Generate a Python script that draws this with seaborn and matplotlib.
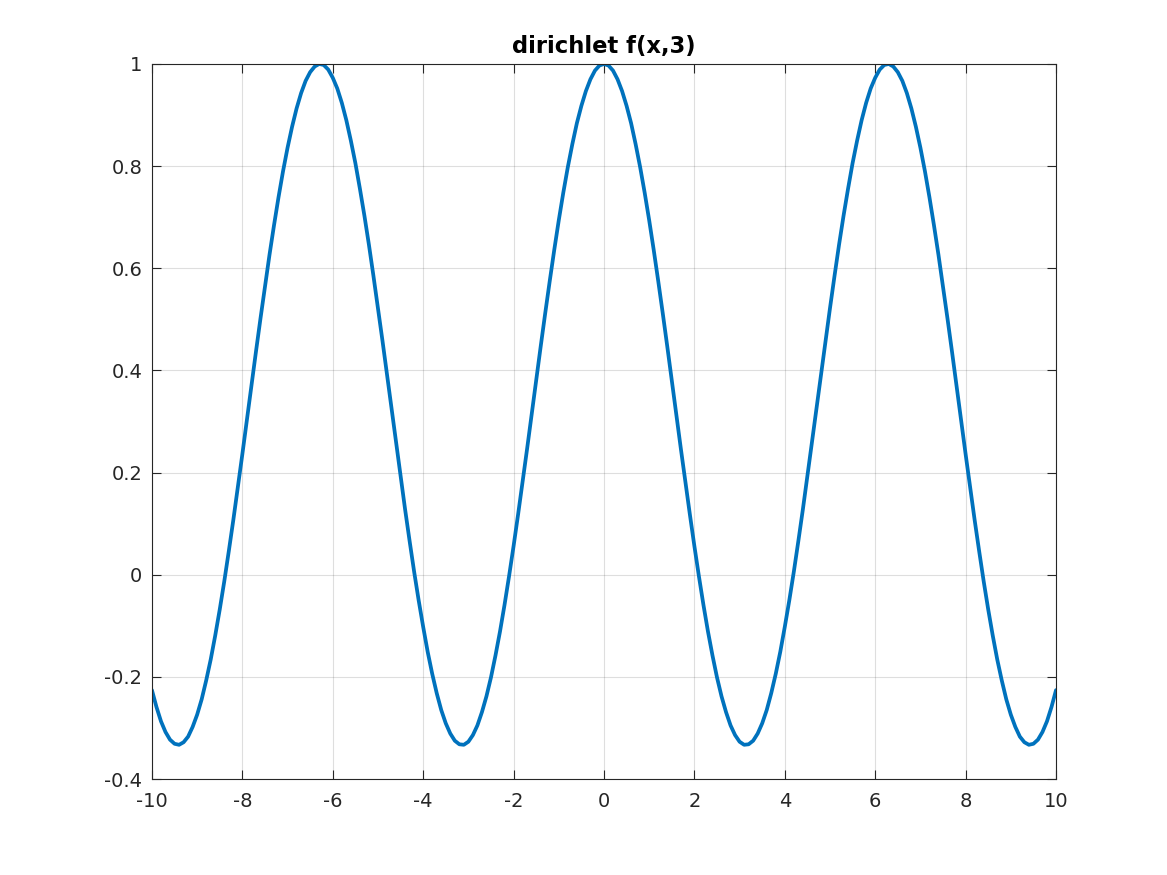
import numpy as np
import pandas as pd
import matplotlib
matplotlib.use("Agg")
import matplotlib.pyplot as plt
import seaborn as sns

# sample positions 0, 0.1, ..., 10 (mirrored for negative x)
x_half = list(np.round(np.linspace(0.0, 10.0, 101), 1))
y_half = [1.000, 0.997, 0.987, 0.970, 0.947, 0.918, 0.884, 0.843, 0.798, 0.748,
          0.694, 0.636, 0.575, 0.512, 0.447, 0.380, 0.314, 0.247, 0.182, 0.118,
          0.056, -0.003, -0.059, -0.111, -0.158, -0.201, -0.238, -0.269, -0.295, -0.314,
          -0.327, -0.333, -0.332, -0.325, -0.311, -0.291, -0.265, -0.232, -0.194, -0.151,
          -0.102, -0.050, 0.006, 0.066, 0.128, 0.193, 0.259, 0.325, 0.392, 0.458,
          0.522, 0.585, 0.646, 0.703, 0.756, 0.806, 0.850, 0.890, 0.924, 0.952,
          0.973, 0.989, 0.998, 1.000, 0.995, 0.984, 0.967, 0.943, 0.913, 0.877,
          0.836, 0.790, 0.739, 0.684, 0.626, 0.564, 0.501, 0.436, 0.369, 0.303,
          0.236, 0.171, 0.107, 0.046, -0.013, -0.068, -0.119, -0.166, -0.207, -0.244,
          -0.274, -0.298, -0.317, -0.328, -0.333, -0.331, -0.323, -0.308, -0.287, -0.259,
          -0.226]

x_vals = [-v for v in x_half[:0:-1]] + x_half
y_vals = y_half[:0:-1] + y_half

x_ticks = [-10, -8, -6, -4, -2, 0, 2, 4, 6, 8, 10]
y_ticks = [-0.4, -0.2, 0, 0.2, 0.4, 0.6, 0.8, 1]
y_tick_labels = ["-0.4", "-0.2", "0", "0.2", "0.4", "0.6", "0.8", "1"]
title = "dirichlet f(x,3)"

sns.set_theme(style="white")
plt.rcParams['font.family'] = ['DejaVu Sans']

fig = plt.figure(figsize=(11.67, 8.75), dpi=100)
ax = fig.add_axes([0.1302, 0.1097, 0.7747, 0.8172])

df = pd.DataFrame({"x": x_vals, "y": y_vals})
sns.lineplot(data=df, x="x", y="y", ax=ax, sort=False, estimator=None,
             color="#0072BD", linewidth=2.7)

ax.set_xlim(-10, 10)
ax.set_ylim(-0.4, 1)
ax.set_xticks(x_ticks)
ax.set_xticklabels([str(t) for t in x_ticks])
ax.set_yticks(y_ticks)
ax.set_yticklabels(y_tick_labels)
ax.set_xlabel("")
ax.set_ylabel("")
ax.grid(True, color="#262626", alpha=0.15, linewidth=0.8)
ax.set_axisbelow(True)
for s in ax.spines.values():
    s.set_color("#262626")
    s.set_linewidth(0.8)
    s.set_visible(True)
ax.tick_params(direction="in", length=6.5, width=0.8, color="#262626",
               labelsize=14, labelcolor="#262626", top=True, right=True,
               bottom=True, left=True, pad=7)
ax.tick_params(axis="x", pad=9)
ax.set_title(title, fontsize=16.3, fontweight="bold", color="black", pad=8)

fig.savefig("out.png", dpi=100, facecolor="white")
